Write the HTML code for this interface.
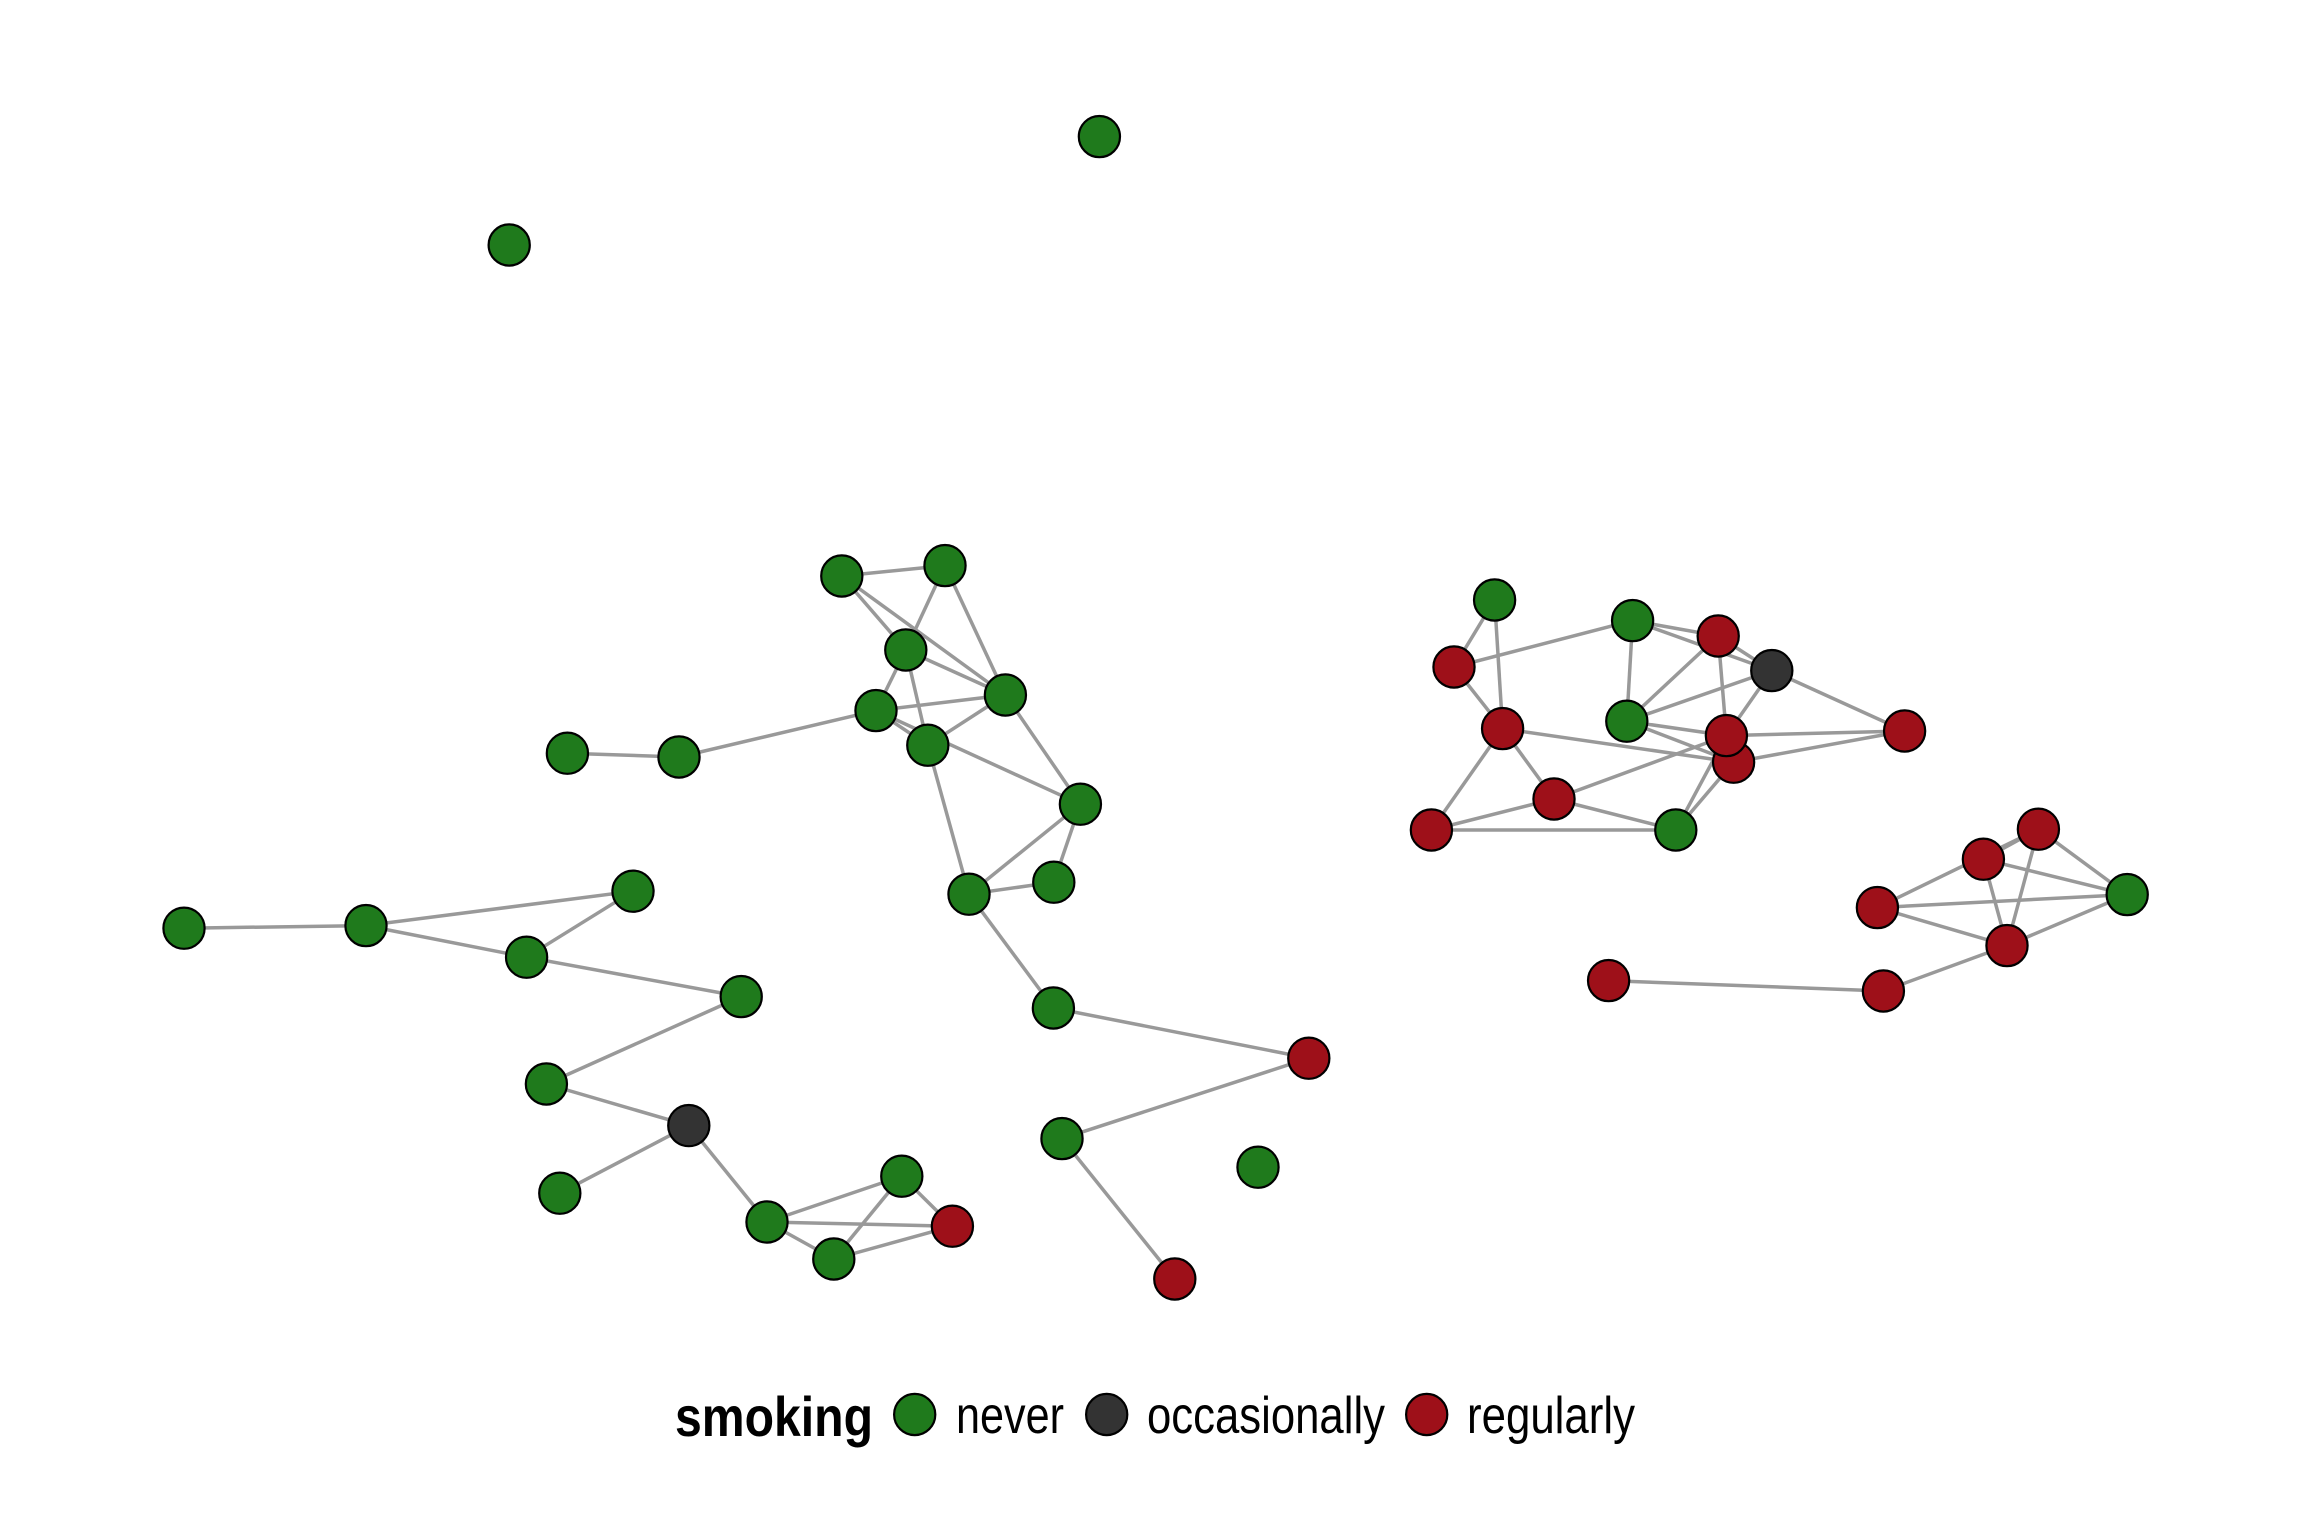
<!DOCTYPE html>
<html lang="en">
<head>
<meta charset="utf-8">
<title>Friendship network by smoking status</title>
<style>
html,body{margin:0;padding:0;background:#fff;}
svg{display:block;font-family:"Liberation Sans",sans-serif;}
</style>
</head>
<body>
<svg id="chart" xmlns="http://www.w3.org/2000/svg" width="2304" height="1536" viewBox="0 0 2304 1536">
  <rect x="0" y="0" width="2304" height="1536" fill="#ffffff"/>
  <g id="edges"></g>
  <g id="nodes"></g>
  <g>
    <text x="675" y="1436" font-size="56" font-weight="700" fill="#000" textLength="198" lengthAdjust="spacingAndGlyphs">smoking</text>
    <circle cx="914.7" cy="1414.5" r="20.6" fill="#1f7a1c" stroke="#000" stroke-width="2.2"/>
    <text x="956" y="1433" font-size="52" fill="#000" textLength="108" lengthAdjust="spacingAndGlyphs">never</text>
    <circle cx="1106.7" cy="1414.5" r="20.6" fill="#333333" stroke="#000" stroke-width="2.2"/>
    <text x="1147" y="1433" font-size="52" fill="#000" textLength="238" lengthAdjust="spacingAndGlyphs">occasionally</text>
    <circle cx="1426.7" cy="1414.5" r="20.6" fill="#9e1019" stroke="#000" stroke-width="2.2"/>
    <text x="1467" y="1433" font-size="52" fill="#000" textLength="168" lengthAdjust="spacingAndGlyphs">regularly</text>
  </g>
</svg>
<script>
// Network layout values (abstract layout units).
const nodeIds = ["A","B","C","D","E","F","G","H","I","a","b","c","d","e","f","h","g","i","j","k","l","m","n","o","p","q","r","s","t","u","v","w","x","y","z","dk","aa","bb","cc","dd","ee","ff","gg","hh","ii","jj","top1","top2","left1","left2"];
const nodeX = [37.09,42.25,40.29,45.27,38.80,41.39,49.02,43.45,47.69,69.73,67.70,76.63,80.91,83.59,76.34,81.68,81.32,90.23,70.13,72.70,66.57,78.79,96.92,94.17,101.36,88.87,95.35,89.17,75.43,4.20,13.30,26.65,21.33,32.06,22.32,29.44,22.99,33.35,40.09,36.69,42.62,47.67,60.44,48.10,57.90,53.74,49.97,20.46,23.37,28.95];
const nodeY = [36.20,36.72,32.50,30.25,29.47,27.74,24.79,20.29,20.89,35.00,31.65,33.97,33.20,31.47,28.94,26.89,28.22,28.45,28.57,25.05,23.50,23.50,23.54,22.04,20.27,19.62,17.72,15.45,15.97,18.59,18.72,20.44,17.14,15.17,10.80,8.72,5.34,3.90,6.19,2.05,3.69,14.60,12.09,8.07,6.64,1.05,58.17,52.75,27.34,27.15];
const nodeSmoking = ["never","never","never","never","never","never","never","never","never","never","regularly","never","regularly","occasionally","never","regularly","regularly","regularly","regularly","regularly","regularly","never","regularly","regularly","never","regularly","regularly","regularly","regularly","never","never","never","never","never","never","occasionally","never","never","never","never","regularly","never","regularly","never","never","regularly","never","never","never","never"];
const edgeFrom = ["A","A","A","B","B","C","C","C","E","E","E","D","D","F","G","G","H","H","a","a","b","b","c","c","c","d","d","d","e","e","e","f","f","g","h","j","j","j","k","k","k","l","m","m","n","n","n","o","o","q","q","q","r","r","s","u","v","v","x","x","y","z","dk","dk","bb","bb","bb","cc","cc","dd","ff","gg","hh","left1","left2"];
const edgeTo = ["B","C","D","C","D","D","E","F","D","F","G","F","G","H","H","I","I","ff","b","j","j","c","d","e","f","e","f","g","f","g","i","g","h","i","i","h","k","l","l","m","g","m","g","h","o","r","p","r","p","n","p","r","p","s","t","v","w","x","w","y","z","dk","aa","bb","cc","ee","dd","dd","ee","ee","gg","hh","jj","left2","E"];
const smokingLevels = ["never","occasionally","regularly"];
const smokingColors = ["#1f7a1c","#333333","#9e1019"];

function xScale(v){ return 100 + v * 20; }
function yScale(v){ return 1300 - v * 20; }
function colorScale(s){ return smokingColors[smokingLevels.indexOf(s)]; }

const NS = "http://www.w3.org/2000/svg";
const edgeLayer = document.getElementById("edges");
const nodeLayer = document.getElementById("nodes");

edgeFrom.forEach(function(from, idx){
  const to = edgeTo[idx];
  const i1 = nodeIds.indexOf(from);
  const i2 = nodeIds.indexOf(to);
  const line = document.createElementNS(NS, "line");
  line.setAttribute("x1", xScale(nodeX[i1]));
  line.setAttribute("y1", yScale(nodeY[i1]));
  line.setAttribute("x2", xScale(nodeX[i2]));
  line.setAttribute("y2", yScale(nodeY[i2]));
  line.setAttribute("stroke", "#999999");
  line.setAttribute("stroke-width", "3.5");
  
  
  edgeLayer.appendChild(line);
});

nodeIds.forEach(function(id, idx){
  const c = document.createElementNS(NS, "circle");
  c.setAttribute("cx", xScale(nodeX[idx]));
  c.setAttribute("cy", yScale(nodeY[idx]));
  c.setAttribute("r", "20.6");
  c.setAttribute("fill", colorScale(nodeSmoking[idx]));
  c.setAttribute("stroke", "#000000");
  c.setAttribute("stroke-width", "2.2");
  
  
  nodeLayer.appendChild(c);
});
</script>
</body>
</html>
